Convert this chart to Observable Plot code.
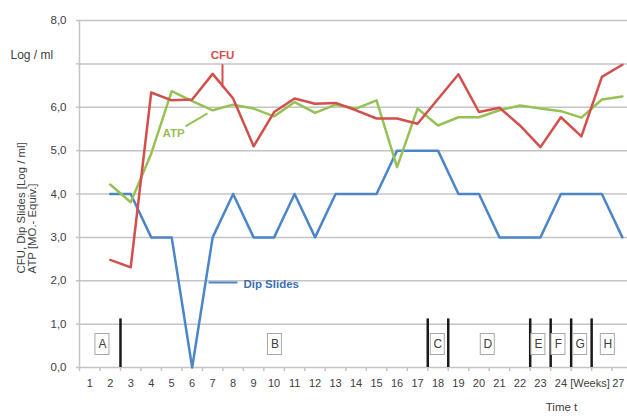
<!DOCTYPE html>
<html><head><meta charset="utf-8">
<script src="https://cdn.jsdelivr.net/npm/d3@7"></script>
<script src="https://cdn.jsdelivr.net/npm/@observablehq/plot@0.6"></script>
<style>
html,body{margin:0;padding:0;background:#fff;}
#chart svg{display:block;}
</style></head><body><div id="chart"></div>
<script>
// ---- data ----
const categories = [1,2,3,4,5,6,7,8,9,10,11,12,13,14,15,16,17,18,19,20,21,22,23,24,25,26,27];
const weeks = [2,3,4,5,6,7,8,9,10,11,12,13,14,15,16,17,18,19,20,21,22,23,24,25,26,27];
const cfu = [2.48,2.31,6.34,6.16,6.18,6.77,6.2,5.1,5.89,6.2,6.08,6.1,5.93,5.74,5.74,5.62,6.19,6.76,5.89,5.99,5.58,5.08,5.77,5.33,6.7,6.98];
const atp = [4.22,3.81,4.93,6.37,6.14,5.93,6.06,5.97,5.79,6.12,5.87,6.06,5.97,6.16,4.62,5.97,5.58,5.77,5.77,5.93,6.04,5.97,5.91,5.76,6.18,6.25];
const dipSlides = [4,4,3,3,0,3,4,3,3,4,3,4,4,4,5,5,5,4,4,3,3,3,4,4,4,3];
const yTicks = [0,1,2,3,4,5,6,7,8];
const yTickLabels = ["0,0","1,0","2,0","3,0","4,0","5,0","6,0","","8,0"];
const xTickPositions = [1,2,3,4,5,6,7,8,9,10,11,12,13,14,15,16,17,18,19,20,21,22,23,24,25.42,26.8];
const xTickLabels = ["1","2","3","4","5","6","7","8","9","10","11","12","13","14","15","16","17","18","19","20","21","22","23","24","[Weeks]","27"];
const phaseNames = ["A","B","C","D","E","F","G","H"];
const phaseCenters = [1.62,10.04,17.99,20.43,22.9,23.88,24.94,26.29];
const phaseBreaks = [2.5,17.5,18.5,22.5,23.5,24.5,25.5];
const seriesNames = ["CFU","ATP","Dip Slides"];
const seriesColors = ["#d24f4b","#97c155","#4a86c8"];
const labelColors = ["#d24f4b","#97c155","#3d6fb2"];
const labelX = [7.48,5.09,8.5];
const labelY = [7.19,5.39,1.91];
const leaderX1 = [7.48,5.67,6.8];
const leaderY1 = [6.99,5.56,1.96];
const leaderX2 = [7.48,6.75,8.21];
const leaderY2 = [6.46,5.86,1.96];

// ---- tables ----
const rows = weeks.map((w, i) => ({week: w, cfu: cfu[i], atp: atp[i], dip: dipSlides[i]}));
const labels = seriesNames.map((n, i) => ({name: n, x: labelX[i], y: labelY[i],
  x1: leaderX1[i], y1: leaderY1[i], x2: leaderX2[i], y2: leaderY2[i]}));
const phases = phaseNames.map((n, i) => ({name: n, x: phaseCenters[i]}));

const font = "'Liberation Sans',Arial,sans-serif";
const grid = "#c4c4c4";
const ink = "#404040";
const seriesLabelMarks = labels.flatMap((l, i) => [
  Plot.link([l], {x1: "x1", y1: "y1", x2: "x2", y2: "y2", stroke: seriesColors[i], strokeWidth: 2}),
  Plot.text([l], {x: "x", y: "y", text: "name", fill: labelColors[i], textAnchor: i === 2 ? "start" : "middle",
    fontWeight: "bold", fontSize: 11.5})
]);
const chart = Plot.plot({
  width: 627, height: 419,
  marginLeft: 79, marginRight: 0, marginTop: 20, marginBottom: 52,
  style: {fontFamily: font, fontSize: "11px", color: ink, background: "#fff"},
  x: {type: "linear", domain: [0.5, 27.25], axis: null},
  y: {type: "linear", domain: [0, 8], axis: null},
  marks: [
    Plot.gridY(yTicks, {stroke: grid, strokeOpacity: 1, strokeWidth: 1.5}),
    Plot.ruleX([0.5], {y1: 0, y2: 8, stroke: grid, strokeWidth: 1.5}),
    Plot.axisY(yTicks, {tickSize: 3, tickPadding: 10, stroke: grid, strokeWidth: 1.5, fontSize: 11.5, fill: ink,
      tickFormat: d => yTickLabels[yTicks.indexOf(d)]}),
    Plot.axisX(categories.map(c => c - 0.5), {tickSize: 4, stroke: grid, strokeWidth: 1.5, tickFormat: () => ""}),
    Plot.axisX(xTickPositions, {tickSize: 0, tickPadding: 12, fontSize: 11, fill: ink,
      tickFormat: d => xTickLabels[xTickPositions.indexOf(d)]}),
    Plot.text(["Log / ml"], {frameAnchor: "left", y: 7.2, dx: -69, textAnchor: "start", fontSize: 12, fill: ink}),
    Plot.text(["CFU, Dip Slides [Log / ml]\nATP [MO.- Equiv.]"], {frameAnchor: "left", y: 2.17, dx: -52.5, rotate: -90,
      textAnchor: "start", lineHeight: 0.97, fontSize: 11.4, fill: ink}),
    Plot.text(["Time t"], {x: 24.03, frameAnchor: "bottom", dy: 43, fontSize: 11.5, fill: ink}),
    // phase separators and boxes
    Plot.ruleX(phaseBreaks, {y1: 0, y2: 1.12, stroke: "#1a1a1a", strokeWidth: 2.5}),
    Plot.rect(phases, {x1: "x", x2: "x", y1: 0.53, y2: 0.53, insetLeft: -7, insetRight: -7, insetTop: -10.5, insetBottom: -10.5,
      fill: "#fff", stroke: "#a8a8a8", strokeWidth: 1}),
    Plot.text(phases, {x: "x", y: 0.53, text: "name", fontSize: 12, fill: ink}),
    // series
    Plot.line(rows, {x: "week", y: "dip", stroke: seriesColors[2], strokeWidth: 2.5}),
    Plot.line(rows, {x: "week", y: "atp", stroke: seriesColors[1], strokeWidth: 2.5}),
    Plot.line(rows, {x: "week", y: "cfu", stroke: seriesColors[0], strokeWidth: 2.5}),
    // series labels
    ...seriesLabelMarks
  ]
});
document.getElementById("chart").append(chart);
</script></body></html>
